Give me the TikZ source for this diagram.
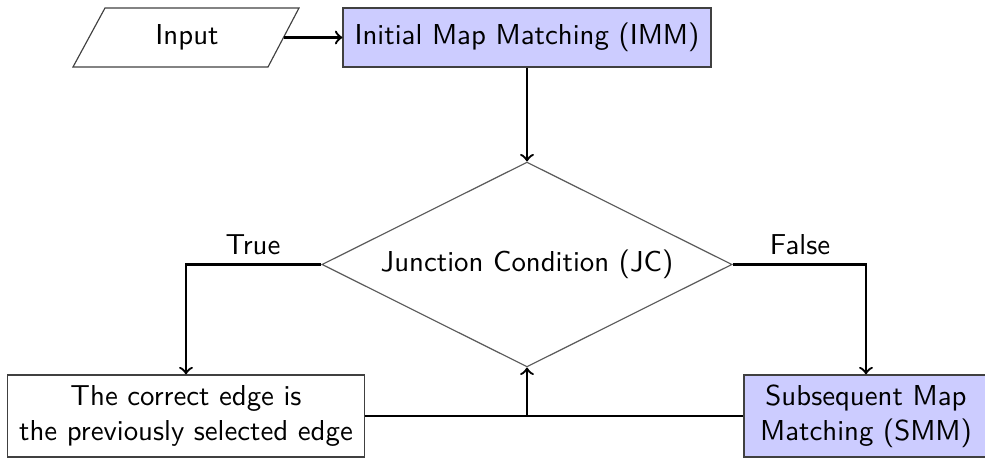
\documentclass[tikz,border=0pt]{standalone}
\usetikzlibrary{shapes.geometric}
\begin{document}
\begin{tikzpicture}[x=0.347pt,y=-0.347pt,font=\sffamily,
  outline/.style={draw=black!75,line width=0.4pt},
  plainbox/.style={outline,rectangle,inner sep=0pt,align=center},
  procbox/.style={plainbox,fill=blue!20},
  decision/.style={draw=black!65,line width=0.4pt,diamond,aspect=2,inner sep=0pt},
  link/.style={draw=black,line width=0.8pt,->},
  joint/.style={draw=black,line width=0.8pt},
  branch/.style={anchor=base}]
\useasboundingbox (0,0) rectangle (985,458);

% input (parallelogram drawn around its label)
\draw[outline] (73,67) -- (105,8) -- (299,8) -- (268,67) -- cycle;
\node (input) at (187,37.5) {Input};
\coordinate (inR) at (283.5,37.5);

% process steps
\node[procbox,minimum width=127.7pt,minimum height=20.5pt] (imm) at (527,37.5)
  {Initial Map Matching (IMM)};
\node[decision,minimum width=142.3pt,minimum height=71.1pt] (jc) at (527,264.5)
  {Junction Condition (JC)};
\node[plainbox,minimum width=123.9pt,minimum height=28.5pt] (sel) at (186,416)
  {The correct edge is\\the previously selected edge};
\node[procbox,minimum width=84.7pt,minimum height=28.5pt] (smm) at (866,416)
  {Subsequent Map\\Matching (SMM)};

% branch labels
\node[branch] (tlab) at (253,255) {True};
\node[branch] (flab) at (800,255) {False};

% connectors
\draw[link] (inR) -- (imm);
\draw[link] (imm) -- (jc);
\draw[link] (jc.west) -| (sel.north);
\draw[link] (jc.east) -| (smm.north);
\draw[joint] (sel.east) -- (smm.west);
\coordinate (meet) at (jc.south |- sel.east);
\draw[link] (meet) -- (jc.south);
\end{tikzpicture}
\end{document}
